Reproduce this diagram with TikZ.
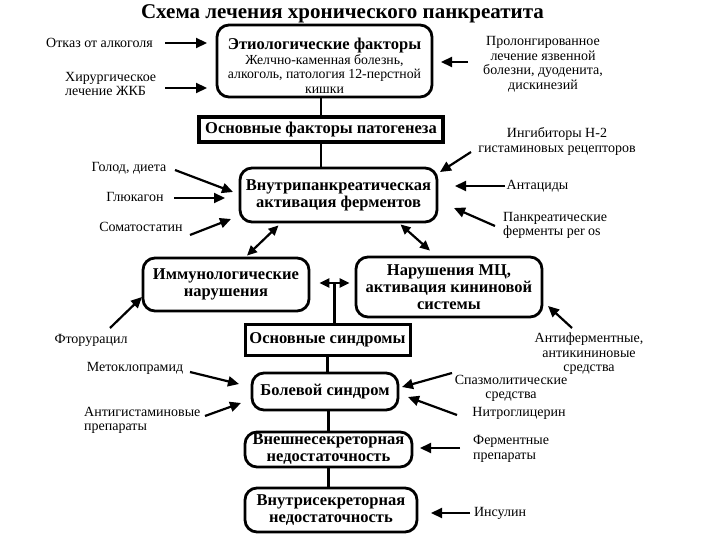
\documentclass[tikz,border=0pt]{standalone}
\usepackage{fontspec}
\setmainfont{Liberation Serif}
\usetikzlibrary{arrows.meta,calc}
\newcommand\titlef{\fontsize{21}{24}\selectfont\bfseries}
\newcommand\boxb{\fontsize{16.5}{17}\selectfont\bfseries}
\newcommand\boxr{\fontsize{13.8}{14.5}\selectfont}
\newcommand\labf{\fontsize{14}{14.5}\selectfont}
\tikzset{
  rbox/.style={draw, line width=2.8pt, rounded corners=12pt, inner sep=0pt, align=center, font=\boxb},
  sbox/.style={draw, line width=4pt, inner sep=0pt, align=center, font=\boxb},
  lab/.style={inner sep=0pt, align=center, font=\labf},
  labl/.style={inner sep=0pt, align=left, font=\labf, anchor=west},
  arr/.style={line width=2.2pt, -{Triangle[length=11pt,width=10pt]}},
  darr/.style={line width=2.2pt, {Triangle[length=10pt,width=9pt]}-{Triangle[length=10pt,width=9pt]}},
  link/.style={line width=2.4pt}
}
\begin{document}
\begin{tikzpicture}[x=1pt,y=-1pt]
\useasboundingbox[fill=white] (0,0) rectangle (720,540);
\node[font=\titlef, inner sep=0pt] (title) at (342.5,14) {Схема лечения хронического панкреатита};
% boxes
\node[rbox, minimum width=215pt, minimum height=72pt] (etio) at (324.5,61) {};
\node[inner sep=0pt, align=center, font=\boxr] (etiotext) at (324.5,66)
  {{\boxb Этиологические факторы}\\Желчно-каменная болезнь,\\алкоголь, патология 12-перстной\\кишки};
\node[sbox, minimum width=244pt, minimum height=25pt] (osnfact) at (321,129.5) {Основные факторы патогенеза};
\node[rbox, minimum width=197pt, minimum height=54pt] (vnutri) at (338.5,195) {Внутрипанкреатическая\\активация ферментов};
\node[rbox, minimum width=166pt, minimum height=53pt] (immun) at (226,284.5) {Иммунологические\\нарушения};
\node[rbox, minimum width=186pt, minimum height=60pt] (mc) at (449,287) {Нарушения МЦ,\\активация кининовой\\системы};
\node[sbox, line width=3pt, minimum width=165pt, minimum height=31pt] (synd) at (327.5,339.5) {Основные синдромы};
\node[rbox, minimum width=146pt, minimum height=37pt] (bol) at (325,391.5) {Болевой синдром};
\node[rbox, minimum width=167pt, minimum height=35pt] (vnesh) at (328.5,449.5) {Внешнесекреторная\\недостаточность};
\node[rbox, minimum width=172pt, minimum height=44pt] (vnutrisec) at (331,510) {Внутрисекреторная\\недостаточность};
% labels
\node[lab] (l1) at (99.5,43) {Отказ от алкоголя};
\node[labl] (l2) at (65,84) {Хирургическое\\лечение ЖКБ};
\node[lab] (l3) at (543,64.5) {Пролонгированное\\лечение язвенной\\болезни, дуоденита,\\дискинезий};
\node[lab] (l4) at (129,168) {Голод, диета};
\node[lab] (l5) at (135,197) {Глюкагон};
\node[lab] (l6) at (141,227) {Соматостатин};
\node[lab] (l7) at (557,141.5) {Ингибиторы Н-2\\гистаминовых рецепторов};
\node[lab] (l8) at (537.5,186) {Антациды};
\node[labl] (l9) at (503,225.5) {Панкреатические\\ферменты per os};
\node[lab] (l10) at (91,340) {Фторурацил};
\node[lab] (l11) at (135,368) {Метоклопрамид};
\node[labl] (l12) at (84,420.5) {Антигистаминовые\\препараты};
\node[lab] (l13) at (589,354) {Антиферментные,\\антикининовые\\средства};
\node[lab] (l14) at (511,388.5) {Спазмолитические\\средства};
\node[lab] (l15) at (519,413) {Нитроглицерин};
\node[labl] (l16) at (473,449) {Ферментные\\препараты};
\node[lab] (l17) at (500,513) {Инсулин};
% arrow end points
\coordinate (a1s) at (165,43);  \coordinate (a1e) at (207,43);
\coordinate (a2s) at (165,88);  \coordinate (a2e) at (207,88);
\coordinate (a3s) at (468,62);  \coordinate (a3e) at (441,62);
\coordinate (a4s) at (175,170); \coordinate (a4e) at (233,192);
\coordinate (a5s) at (174,198); \coordinate (a5e) at (225,198);
\coordinate (a6s) at (190,235); \coordinate (a6e) at (231,219);
\coordinate (a7s) at (471,152); \coordinate (a7e) at (440,172);
\coordinate (a8s) at (505,186); \coordinate (a8e) at (455,186);
\coordinate (a9s) at (495,226); \coordinate (a9e) at (454,208);
\coordinate (a10s) at (110,328); \coordinate (a10e) at (142,297);
\coordinate (a11s) at (190,372); \coordinate (a11e) at (239,384);
\coordinate (a12s) at (205,416); \coordinate (a12e) at (241,403);
\coordinate (a13s) at (572,328); \coordinate (a13e) at (548,306);
\coordinate (a14s) at (452,373); \coordinate (a14e) at (402,387);
\coordinate (a15s) at (457,415); \coordinate (a15e) at (408,397);
\coordinate (a16s) at (460,448); \coordinate (a16e) at (420,448);
\coordinate (a17s) at (470,513); \coordinate (a17e) at (431,513);
\foreach \i in {1,...,17} { \draw[arr] (a\i s) -- (a\i e); }
% box links
\draw[link] (osnfact.north |- etio.south) -- (osnfact.north);
\draw[link] (osnfact.south) -- (osnfact.south |- vnutri.north);
\draw[darr] ($(vnutri.south)+(-60,2)$) -- ($(immun.north)+(21,-1)$);
\draw[darr] ($(vnutri.south)+(62,1)$) -- ($(mc.north)+(-19,-5)$);
\draw[darr] ($(immun.east)+(9,-1.5)$) coordinate (d3a) -- ($(mc.west)+(-5,-4)$) coordinate (d3b);
\coordinate (dm) at ($(d3a)!0.5!(d3b)$);
\draw[link] (dm) -- (dm |- synd.north);
\draw[link] (synd.south) -- (synd.south |- bol.north);
\draw[link] (bol.south -| vnesh.north) -- (vnesh.north);
\draw[link] (vnesh.south) -- (vnesh.south |- vnutrisec.north);
\end{tikzpicture}
\end{document}
